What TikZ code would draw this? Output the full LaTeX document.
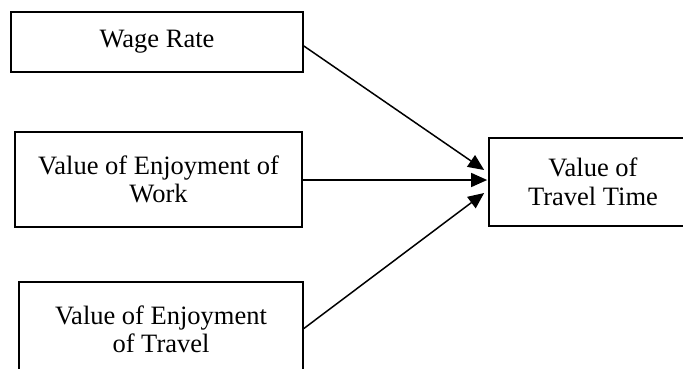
\documentclass[tikz,border=0pt]{standalone}
\usepackage{fontspec}
\setmainfont{Liberation Serif}
\usetikzlibrary{arrows.meta,calc}
\begin{document}
\begin{tikzpicture}[x=1pt,y=-1pt,
  box/.style={draw=black, line width=1.7pt, inner sep=0pt, align=center,
    font=\fontsize{26.5}{28.5}\selectfont},
  arr/.style={line width=1.5pt, -{Triangle[length=16pt,width=14pt]}}]
\clip (0,0) rectangle (683,369);
\useasboundingbox (0,0) rectangle (683,369);
\node[box, minimum width=292pt, minimum height=60pt] (b1) at (157,42) {Wage Rate};
\node[box, minimum width=287pt, minimum height=95pt] (b2) at (158.5,179.5) {Value of Enjoyment of\\Work};
\node[box, minimum width=284pt, minimum height=95pt] (b3) at (161,329.5) {Value of Enjoyment\\of Travel};
\node[box, minimum width=208pt, minimum height=88pt] (b4) at (593,182) {Value of\\Travel Time};
\draw[arr] ($(b1.east)+(0,4)$) -- ($(b4.west)+(-4,-12)$);
\draw[arr] ($(b2.east)+(0,0.5)$) -- ($(b4.west)+(-1,-2)$);
\draw[arr] ($(b3.east)+(0,-1)$) -- ($(b4.west)+(-4,11)$);
\end{tikzpicture}
\end{document}
